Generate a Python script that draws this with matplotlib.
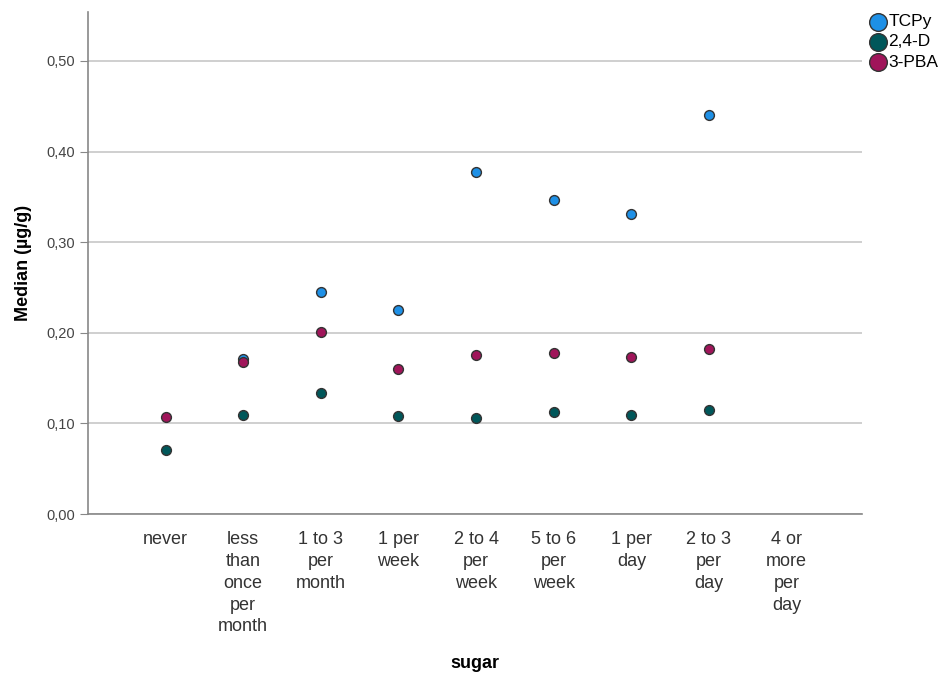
import numpy as np
import matplotlib.pyplot as plt
from matplotlib.ticker import FuncFormatter

plt.rcParams['font.family'] = ['Liberation Sans', 'DejaVu Sans']

categories = ['never', 'less\nthan\nonce\nper\nmonth', '1 to 3\nper\nmonth', '1 per\nweek',
              '2 to 4\nper\nweek', '5 to 6\nper\nweek', '1 per\nday', '2 to 3\nper\nday',
              '4 or\nmore\nper\nday']
tcpy = [np.nan, 0.171, 0.245, 0.225, 0.377, 0.347, 0.331, 0.440, np.nan]
d24 = [0.071, 0.109, 0.134, 0.108, 0.106, 0.113, 0.109, 0.115, np.nan]
pba = [0.107, 0.168, 0.201, 0.160, 0.175, 0.178, 0.173, 0.182, np.nan]

series = [('TCPy', tcpy, '#1E90E6'), ('2,4-D', d24, '#00575A'), ('3-PBA', pba, '#A0155A')]

fig = plt.figure(figsize=(9.43, 6.81), dpi=100)
ax = fig.add_axes([0.0933, 0.2452, 0.8207, 0.7372])

x = np.arange(len(categories))
for name, vals, col in series:
    ax.scatter(x, vals, s=50, color=col, edgecolor='#333333', linewidth=1, zorder=3, label=name)

ax.set_xlim(-1, 8.97)
ax.set_ylim(0, 0.554)
ax.set_yticks([0, 0.1, 0.2, 0.3, 0.4, 0.5])
ax.yaxis.set_major_formatter(FuncFormatter(lambda v, p: f'{v:.2f}'.replace('.', ',')))
ax.set_xticks(x)
ax.set_xticklabels(categories, fontsize=13, color='#333333', linespacing=1.38, va='top')
ax.tick_params(axis='x', length=0, pad=12)
ax.tick_params(axis='y', labelsize=10.5, colors='#444444', length=6, color='#888888')
ax.grid(axis='y', color='#cccccc', linewidth=1.3, zorder=0)
ax.set_axisbelow(True)
for s in ['top', 'right']:
    ax.spines[s].set_visible(False)
for s in ['left', 'bottom']:
    ax.spines[s].set_color('#888888')
    ax.spines[s].set_linewidth(1.2)

ax.set_xlabel('sugar', fontsize=13, fontweight='bold', labelpad=14)
ax.set_ylabel('Median (µg/g)', fontsize=13, fontweight='bold', labelpad=10)

ax.legend(loc='upper left', bbox_to_anchor=(0.998, 1.01), frameon=False, fontsize=12.5,
          handletextpad=0.0, labelspacing=0.3, borderaxespad=0, markerscale=1.8,
          handlelength=1.2)

fig.savefig('out.png', dpi=100)
